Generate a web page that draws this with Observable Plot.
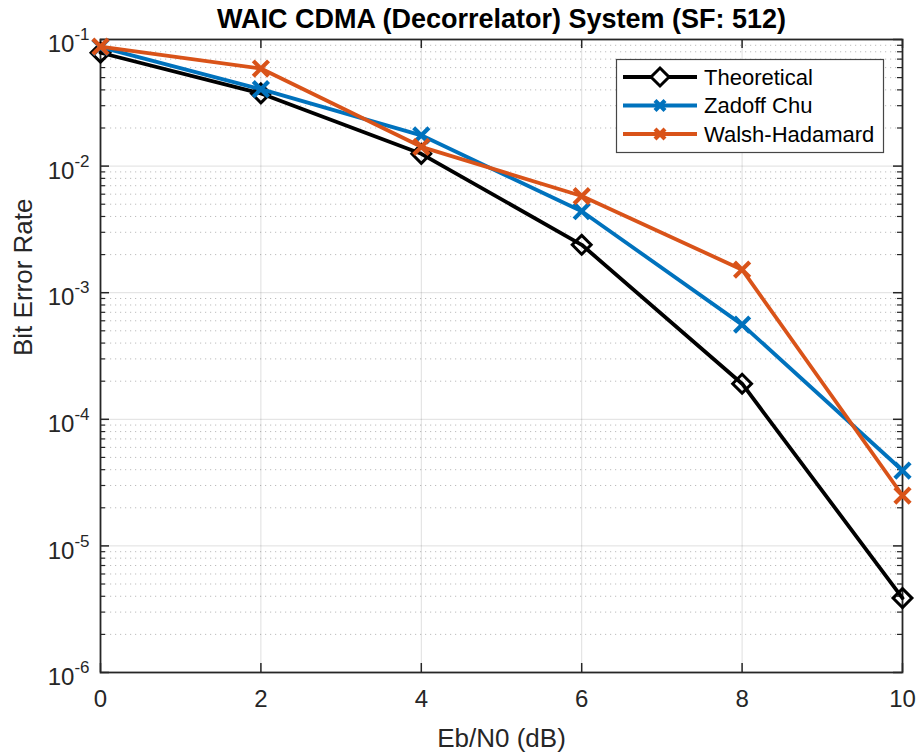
<!DOCTYPE html>
<html>
<head>
<meta charset="utf-8">
<script src="https://cdn.jsdelivr.net/npm/d3@7"></script>
<script src="https://cdn.jsdelivr.net/npm/@observablehq/plot@0.6"></script>
<style>
  html, body { margin: 0; padding: 0; background: #fff; }
  #chart svg { display: block; }
</style>
</head>
<body>
<div id="chart"></div>
<script>
// ---- data ----
const ebn0 = [0, 2, 4, 6, 8, 10];
const berTheoretical = [0.0786, 0.0375, 0.0125, 0.00239, 0.000191, 0.00000387];
const berZadoffChu   = [0.087, 0.0405, 0.0175, 0.0044, 0.00056, 0.0000394];
const berWalsh       = [0.088, 0.059, 0.0142, 0.0058, 0.00152, 0.000025];
const seriesNames  = ["Theoretical", "Zadoff Chu", "Walsh-Hadamard"];
const seriesColors = ["#000000", "#0072BD", "#D95319"];
const seriesSymbols = ["diamond2", "times", "times"];
const xTicks = [0, 2, 4, 6, 8, 10];
const yMajor = [1e-1, 1e-2, 1e-3, 1e-4, 1e-5, 1e-6];
const yMinorFactors = [2, 3, 4, 5, 6, 7, 8, 9];
const titleText = "WAIC CDMA (Decorrelator) System (SF: 512)";
const xLabel = "Eb/N0 (dB)";
const yLabel = "Bit Error Rate";

// ---- derived tables ----
const series = [berTheoretical, berZadoffChu, berWalsh];
const rows = series.map((vals, i) => ebn0.map((x, j) => ({x, y: vals[j], name: seriesNames[i]})));
const yMinor = [];
for (let e = -6; e <= -2; e++) for (const f of yMinorFactors) yMinor.push(f * Math.pow(10, e));

const W = 920, H = 756, mL = 100, mR = 18, mT = 39, mB = 84;
const pw = W - mL - mR, ph = H - mT - mB;
const axisColor = "#262626";
const font = "'Liberation Sans', Arial, Helvetica, sans-serif";
const lineW = 3.8;

const marks = [
  Plot.gridY(yMinor, {stroke: axisColor, strokeOpacity: 0.3, strokeDasharray: "1.2,3.8", strokeWidth: 1}),
  Plot.gridY(yMajor, {stroke: axisColor, strokeOpacity: 0.15, strokeWidth: 1}),
  Plot.gridX(xTicks, {stroke: axisColor, strokeOpacity: 0.15, strokeWidth: 1}),
  // inward ticks
  Plot.ruleY(yMajor, {stroke: axisColor, strokeWidth: 1.5, insetRight: pw - 9}),
  Plot.ruleY(yMajor, {stroke: axisColor, strokeWidth: 1.5, insetLeft: pw - 9}),
  Plot.ruleY(yMinor, {stroke: axisColor, strokeWidth: 1.2, insetRight: pw - 5}),
  Plot.ruleY(yMinor, {stroke: axisColor, strokeWidth: 1.2, insetLeft: pw - 5}),
  Plot.ruleX(xTicks, {stroke: axisColor, strokeWidth: 1.5, insetTop: ph - 9}),
  Plot.ruleX(xTicks, {stroke: axisColor, strokeWidth: 1.5, insetBottom: ph - 9}),
  Plot.frame({stroke: axisColor, strokeWidth: 1.8}),
  Plot.axisX({ticks: xTicks, tickSize: 0, tickPadding: 17, fontSize: 24, fill: axisColor, label: null, tickFormat: d => String(d)}),
  Plot.axisY({ticks: yMajor, tickSize: 0, tickPadding: 11, dy: 5, fontSize: 24, fill: axisColor, label: null,
              tickFormat: d => "10|" + Math.round(Math.log10(d))}),
];
rows.forEach((data, i) => {
  marks.push(Plot.line(data, {x: "x", y: "y", stroke: seriesColors[i], strokeWidth: lineW}));
  marks.push(Plot.dot(data, {x: "x", y: "y", symbol: seriesSymbols[i], r: i === 0 ? 8.5 : 7,
    stroke: seriesColors[i], strokeWidth: i === 0 ? 3 : 4.2, fill: "none"}));
});
marks.push(
  Plot.text([titleText], {frameAnchor: "top", lineAnchor: "middle", dy: -20, fontSize: 27, fontWeight: "bold", fill: "#000"}),
  Plot.text([xLabel], {frameAnchor: "bottom", lineAnchor: "middle", dy: 66, fontSize: 26, fill: axisColor}),
  Plot.text([yLabel], {frameAnchor: "left", lineAnchor: "middle", dx: -77, rotate: -90, fontSize: 26, fill: axisColor})
);

const svg = Plot.plot({
  width: W, height: H,
  marginLeft: mL, marginRight: mR, marginTop: mT, marginBottom: mB,
  style: {fontFamily: font, background: "#fff", overflow: "visible"},
  x: {domain: [0, 10]},
  y: {type: "log", domain: [1e-6, 1e-1]},
  marks
});

// superscript exponents on y tick labels
d3.select(svg).selectAll('g[aria-label="y-axis tick label"] text').each(function() {
  const t = this.textContent;
  if (!t.includes("|")) return;
  const [base, exp] = t.split("|");
  const sel = d3.select(this);
  sel.text(null);
  sel.append("tspan").text(base);
  sel.append("tspan").attr("dy", -12).attr("font-size", 17).text(exp);
});

// legend
const leg = d3.select(svg).append("g").attr("font-family", font).attr("text-anchor", "start");
const lx = 616.5, ly = 59.5, lw = 267, lh = 93;
leg.append("rect").attr("x", lx).attr("y", ly).attr("width", lw).attr("height", lh)
  .attr("fill", "#fff").attr("stroke", axisColor).attr("stroke-opacity", 0.85).attr("stroke-width", 1.2);
seriesNames.forEach((name, i) => {
  const cy = 77 + i * 28.5;
  leg.append("line").attr("x1", 623).attr("x2", 697).attr("y1", cy).attr("y2", cy)
    .style("stroke", seriesColors[i]).style("stroke-width", lineW);
  if (seriesSymbols[i] === "diamond2") {
    leg.append("path").attr("d", `M660,${cy-9}L669,${cy}L660,${cy+9}L651,${cy}Z`)
      .style("fill", "#fff").style("stroke", seriesColors[i]).style("stroke-width", 3);
  } else {
    leg.append("path").attr("d", `M655,${cy-5}L665,${cy+5}M655,${cy+5}L665,${cy-5}`)
      .style("fill", "none").style("stroke", seriesColors[i]).style("stroke-width", 4.2);
  }
  leg.append("text").attr("x", 704).attr("y", cy).attr("dy", "0.35em")
    .attr("text-anchor", "start").attr("font-size", 22).attr("fill", "#000").text(name);
});

document.getElementById("chart").appendChild(svg);
</script>
</body>
</html>
